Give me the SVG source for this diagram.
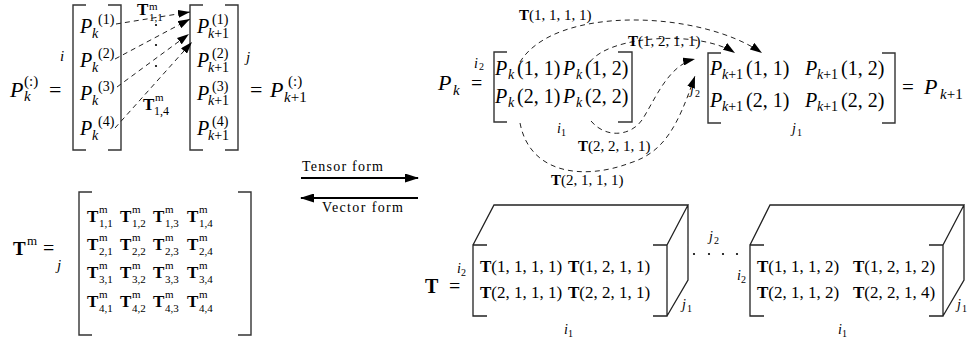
<svg xmlns="http://www.w3.org/2000/svg" width="968" height="347" viewBox="0 0 968 347">
<style>
.t{font-family:"Liberation Serif",serif;fill:#000}
.i{font-style:italic}
.b{font-weight:bold}
.br{fill:none;stroke:#333;stroke-width:1.4}
.cube{fill:none;stroke:#222;stroke-width:1.3}
.dash{fill:none;stroke:#222;stroke-width:1;stroke-dasharray:5 4}
.solid{fill:none;stroke:#000;stroke-width:2}
</style>
<defs>
<marker id="ah" viewBox="0 0 12 8" refX="12" refY="4" markerWidth="12" markerHeight="8" orient="auto" markerUnits="userSpaceOnUse"><path d="M0,0 L12,4 L0,8 z" fill="#000"/></marker>
<marker id="ahb" viewBox="0 0 14 9" refX="13" refY="4.5" markerWidth="14" markerHeight="9" orient="auto" markerUnits="userSpaceOnUse"><path d="M0,0 L14,4.5 L0,9 z" fill="#000"/></marker>
</defs>
<rect width="968" height="347" fill="#fff"/>

<g id="pk-vector">
<text class="t" font-size="22"><tspan class="i" x="10" y="97">P</tspan><tspan class="i" x="24" y="101" font-size="15">k</tspan><tspan x="24" y="86" font-size="15">(:)</tspan><tspan x="49" y="97">=</tspan></text>
<text class="t i" x="60" y="61" font-size="15">i</text>
<path class="br" d="M86,5 H73 V150 H86 M108,5 H121 V150 H108"/>
<text class="t" font-size="20"><tspan class="i" x="80" y="33">P</tspan><tspan class="i" x="92" y="38" font-size="14">k</tspan><tspan x="98" y="24" font-size="14">(1)</tspan></text>
<text class="t" font-size="20"><tspan class="i" x="80" y="67">P</tspan><tspan class="i" x="92" y="72" font-size="14">k</tspan><tspan x="98" y="58" font-size="14">(2)</tspan></text>
<text class="t" font-size="20"><tspan class="i" x="80" y="100">P</tspan><tspan class="i" x="92" y="105" font-size="14">k</tspan><tspan x="98" y="91" font-size="14">(3)</tspan></text>
<text class="t" font-size="20"><tspan class="i" x="80" y="135">P</tspan><tspan class="i" x="92" y="140" font-size="14">k</tspan><tspan x="98" y="126" font-size="14">(4)</tspan></text>
</g>

<g id="pk1-vector">
<path class="br" d="M203,5 H190 V150 H203 M225,5 H238 V150 H225"/>
<text class="t" font-size="20"><tspan class="i" x="197" y="33">P</tspan><tspan x="208" y="38" font-size="14"><tspan class="i">k</tspan>+1</tspan><tspan x="212" y="24" font-size="14">(1)</tspan></text>
<text class="t" font-size="20"><tspan class="i" x="197" y="67">P</tspan><tspan x="208" y="72" font-size="14"><tspan class="i">k</tspan>+1</tspan><tspan x="212" y="58" font-size="14">(2)</tspan></text>
<text class="t" font-size="20"><tspan class="i" x="197" y="100">P</tspan><tspan x="208" y="105" font-size="14"><tspan class="i">k</tspan>+1</tspan><tspan x="212" y="91" font-size="14">(3)</tspan></text>
<text class="t" font-size="20"><tspan class="i" x="197" y="135">P</tspan><tspan x="208" y="140" font-size="14"><tspan class="i">k</tspan>+1</tspan><tspan x="212" y="126" font-size="14">(4)</tspan></text>
<text class="t i" x="246" y="62" font-size="15">j</text>
<text class="t" font-size="22"><tspan x="250" y="97">=</tspan><tspan class="i" x="270" y="97">P</tspan><tspan x="288" y="86" font-size="15">(:)</tspan><tspan x="284" y="102" font-size="15"><tspan class="i">k</tspan>+1</tspan></text>
</g>

<g id="tm-matrix">
<text class="t" font-size="20"><tspan class="b" x="13" y="255" font-size="19">T</tspan><tspan x="27" y="245" font-size="13">m</tspan><tspan x="43" y="255">=</tspan></text>
<text class="t i" x="57" y="270" font-size="15">j</text>
<path class="br" d="M92,192 H79 V335 H92 M238,192 H251 V335 H238"/>
<g class="t">
<text><tspan class="b" x="87" y="222" font-size="17">T</tspan><tspan x="99" y="213" font-size="11">m</tspan><tspan x="99" y="227" font-size="11">1,1</tspan></text>
<text><tspan class="b" x="120" y="222" font-size="17">T</tspan><tspan x="132" y="213" font-size="11">m</tspan><tspan x="132" y="227" font-size="11">1,2</tspan></text>
<text><tspan class="b" x="153" y="222" font-size="17">T</tspan><tspan x="165" y="213" font-size="11">m</tspan><tspan x="165" y="227" font-size="11">1,3</tspan></text>
<text><tspan class="b" x="187" y="222" font-size="17">T</tspan><tspan x="199" y="213" font-size="11">m</tspan><tspan x="199" y="227" font-size="11">1,4</tspan></text>
<text><tspan class="b" x="87" y="250" font-size="17">T</tspan><tspan x="99" y="241" font-size="11">m</tspan><tspan x="99" y="255" font-size="11">2,1</tspan></text>
<text><tspan class="b" x="120" y="250" font-size="17">T</tspan><tspan x="132" y="241" font-size="11">m</tspan><tspan x="132" y="255" font-size="11">2,2</tspan></text>
<text><tspan class="b" x="153" y="250" font-size="17">T</tspan><tspan x="165" y="241" font-size="11">m</tspan><tspan x="165" y="255" font-size="11">2,3</tspan></text>
<text><tspan class="b" x="187" y="250" font-size="17">T</tspan><tspan x="199" y="241" font-size="11">m</tspan><tspan x="199" y="255" font-size="11">2,4</tspan></text>
<text><tspan class="b" x="87" y="278" font-size="17">T</tspan><tspan x="99" y="269" font-size="11">m</tspan><tspan x="99" y="283" font-size="11">3,1</tspan></text>
<text><tspan class="b" x="120" y="278" font-size="17">T</tspan><tspan x="132" y="269" font-size="11">m</tspan><tspan x="132" y="283" font-size="11">3,2</tspan></text>
<text><tspan class="b" x="153" y="278" font-size="17">T</tspan><tspan x="165" y="269" font-size="11">m</tspan><tspan x="165" y="283" font-size="11">3,3</tspan></text>
<text><tspan class="b" x="187" y="278" font-size="17">T</tspan><tspan x="199" y="269" font-size="11">m</tspan><tspan x="199" y="283" font-size="11">3,4</tspan></text>
<text><tspan class="b" x="87" y="307" font-size="17">T</tspan><tspan x="99" y="298" font-size="11">m</tspan><tspan x="99" y="312" font-size="11">4,1</tspan></text>
<text><tspan class="b" x="120" y="307" font-size="17">T</tspan><tspan x="132" y="298" font-size="11">m</tspan><tspan x="132" y="312" font-size="11">4,2</tspan></text>
<text><tspan class="b" x="153" y="307" font-size="17">T</tspan><tspan x="165" y="298" font-size="11">m</tspan><tspan x="165" y="312" font-size="11">4,3</tspan></text>
<text><tspan class="b" x="187" y="307" font-size="17">T</tspan><tspan x="199" y="298" font-size="11">m</tspan><tspan x="199" y="312" font-size="11">4,4</tspan></text>
</g>
</g>

<g id="pk-tensor">
<text class="t" font-size="22"><tspan class="i" x="438" y="90">P</tspan><tspan class="i" x="453" y="95" font-size="15">k</tspan></text>
<text class="t" font-size="20" x="471" y="90">=</text>
<text class="t" font-size="14"><tspan class="i" x="474" y="68">i</tspan><tspan x="479" y="70" font-size="10">2</tspan></text>
<path class="br" d="M507,52 H494 V122 H507 M618,52 H632 V122 H618"/>
<text class="t" font-size="20"><tspan class="i" x="495" y="75">P</tspan><tspan class="i" x="508" y="79" font-size="14">k</tspan><tspan x="517" y="75">(1, 1)</tspan><tspan class="i" x="563" y="75">P</tspan><tspan class="i" x="576" y="79" font-size="14">k</tspan><tspan x="585" y="75">(1, 2)</tspan></text>
<text class="t" font-size="20"><tspan class="i" x="495" y="103">P</tspan><tspan class="i" x="508" y="107" font-size="14">k</tspan><tspan x="517" y="103">(2, 1)</tspan><tspan class="i" x="563" y="103">P</tspan><tspan class="i" x="576" y="107" font-size="14">k</tspan><tspan x="585" y="103">(2, 2)</tspan></text>
<text class="t" font-size="14"><tspan class="i" x="557" y="133">i</tspan><tspan x="561" y="136" font-size="10">1</tspan></text>
</g>

<g id="pk1-tensor">
<text class="t" font-size="14"><tspan class="i" x="690" y="94">j</tspan><tspan x="695" y="97" font-size="10">2</tspan></text>
<path class="br" d="M721,53 H708 V123 H721 M882,53 H895 V123 H882"/>
<text class="t" font-size="20"><tspan class="i" x="710" y="75">P</tspan><tspan x="722" y="79" font-size="14"><tspan class="i">k</tspan>+1</tspan><tspan x="746" y="75">(1, 1)</tspan><tspan class="i" x="805" y="75">P</tspan><tspan x="817" y="79" font-size="14"><tspan class="i">k</tspan>+1</tspan><tspan x="841" y="75">(1, 2)</tspan></text>
<text class="t" font-size="20"><tspan class="i" x="710" y="107">P</tspan><tspan x="722" y="111" font-size="14"><tspan class="i">k</tspan>+1</tspan><tspan x="746" y="107">(2, 1)</tspan><tspan class="i" x="805" y="107">P</tspan><tspan x="817" y="111" font-size="14"><tspan class="i">k</tspan>+1</tspan><tspan x="841" y="107">(2, 2)</tspan></text>
<text class="t" font-size="14"><tspan class="i" x="792" y="133">j</tspan><tspan x="797" y="136" font-size="10">1</tspan></text>
<text class="t" font-size="22"><tspan x="902" y="94" font-size="21">=</tspan><tspan class="i" x="924" y="94">P</tspan><tspan x="940" y="99" font-size="15"><tspan class="i">k</tspan>+1</tspan></text>
</g>

<g id="t-cube-1">
<text class="t" font-size="20"><tspan class="b" x="425" y="293">T</tspan><tspan x="449" y="293">=</tspan></text>
<text class="t" font-size="14"><tspan class="i" x="457" y="273">i</tspan><tspan x="461" y="276" font-size="10">2</tspan></text>
<path class="cube" d="M487,245 H473 V316 H487 M653,245 H667 V316 H653 M473,245 L494,205 H688 L667,245 M688,205 V280 L667,316"/>
<text class="t" font-size="17"><tspan class="b" x="480" y="272">T</tspan>(1, 1, 1, 1)<tspan class="b" x="568" y="272">T</tspan>(1, 2, 1, 1)</text>
<text class="t" font-size="17"><tspan class="b" x="480" y="298">T</tspan>(2, 1, 1, 1)<tspan class="b" x="568" y="298">T</tspan>(2, 2, 1, 1)</text>
<text class="t" font-size="14"><tspan class="i" x="682" y="309">j</tspan><tspan x="687" y="312" font-size="10">1</tspan></text>
<text class="t" font-size="14"><tspan class="i" x="564" y="334">i</tspan><tspan x="568" y="337" font-size="10">1</tspan></text>
</g>

<g id="cube-dots">
<circle cx="694" cy="254" r="1.1" fill="#000"/><circle cx="709" cy="254" r="1.1" fill="#000"/><circle cx="723" cy="254" r="1.1" fill="#000"/><circle cx="737" cy="254" r="1.1" fill="#000"/>
<text class="t" font-size="14"><tspan class="i" x="709" y="241">j</tspan><tspan x="714" y="244" font-size="10">2</tspan></text>
</g>

<g id="t-cube-2">
<text class="t" font-size="14"><tspan class="i" x="737" y="280">i</tspan><tspan x="741" y="283" font-size="10">2</tspan></text>
<path class="cube" d="M764,245 H750 V316 H764 M929,245 H943 V316 H929 M750,245 L770,205 H964 L943,245 M964,205 V280 L943,316"/>
<text class="t" font-size="17"><tspan class="b" x="757" y="272">T</tspan>(1, 1, 1, 2)<tspan class="b" x="853" y="272">T</tspan>(1, 2, 1, 2)</text>
<text class="t" font-size="17"><tspan class="b" x="757" y="298">T</tspan>(2, 1, 1, 2)<tspan class="b" x="853" y="298">T</tspan>(2, 2, 1, 4)</text>
<text class="t" font-size="14"><tspan class="i" x="957" y="309">j</tspan><tspan x="962" y="312" font-size="10">1</tspan></text>
<text class="t" font-size="14"><tspan class="i" x="838" y="334">i</tspan><tspan x="842" y="337" font-size="10">1</tspan></text>
</g>

<g id="connectors">
<line class="dash" x1="116" y1="24" x2="190" y2="12" marker-end="url(#ah)"/>
<line class="dash" x1="115" y1="59" x2="190" y2="19" marker-end="url(#ah)"/>
<line class="dash" x1="117" y1="87" x2="189" y2="34" marker-end="url(#ah)"/>
<line class="dash" x1="115" y1="128" x2="192" y2="42" marker-end="url(#ah)"/>
<circle cx="156" cy="25" r="1.1" fill="#000"/><circle cx="156" cy="45" r="1.1" fill="#000"/><circle cx="156" cy="66" r="1.1" fill="#000"/>
<text class="t"><tspan class="b" x="137" y="15" font-size="17">T</tspan><tspan x="149" y="10" font-size="11">m</tspan><tspan x="149" y="21" font-size="11">1,1</tspan></text>
<text class="t"><tspan class="b" x="143" y="110" font-size="17">T</tspan><tspan x="155" y="101" font-size="11">m</tspan><tspan x="154" y="115" font-size="12">1,4</tspan></text>

<line class="solid" x1="301" y1="178" x2="418" y2="178" marker-end="url(#ahb)"/>
<line class="solid" x1="418" y1="198" x2="301" y2="198" marker-end="url(#ahb)"/>
<text class="t" x="302" y="171" font-size="14" textLength="81">Tensor form</text>
<text class="t" x="322" y="212" font-size="14" textLength="81">Vector form</text>

<path class="dash" d="M520,62 C555,5 700,10 762,53" marker-end="url(#ah)"/>
<path class="dash" d="M590,62 C610,35 700,30 735,53" marker-end="url(#ah)"/>
<path class="dash" d="M591,121 C605,138 630,137 642,120 C655,100 668,65 695,59" marker-end="url(#ah)"/>
<path class="dash" d="M520,123 C530,175 585,180 630,163 C665,152 678,125 695,76" marker-end="url(#ah)"/>
<text class="t" font-size="15" x="519" y="20"><tspan class="b">T</tspan>(1, 1, 1, 1)</text>
<text class="t" font-size="15" x="628" y="46"><tspan class="b">T</tspan>(1, 2, 1, 1)</text>
<text class="t" font-size="15" x="578" y="151"><tspan class="b">T</tspan>(2, 2, 1, 1)</text>
<text class="t" font-size="15" x="551" y="185"><tspan class="b">T</tspan>(2, 1, 1, 1)</text>
</g>
</svg>
